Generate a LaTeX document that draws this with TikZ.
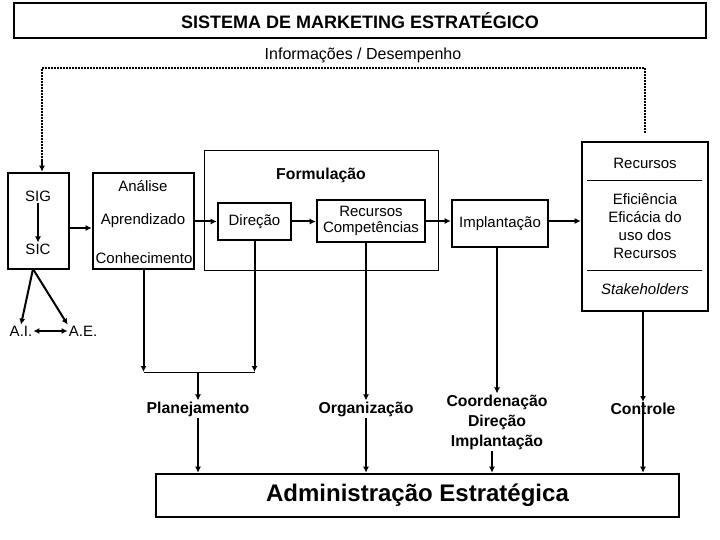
\documentclass[tikz,border=0pt]{standalone}
\usepackage{fontspec}
\setmainfont{Liberation Sans}
\usetikzlibrary{arrows.meta,positioning}

\tikzset{
  thickbox/.style={draw,line width=2.6pt,inner sep=0pt},
  thinbox/.style={draw,line width=0.9pt,inner sep=0pt},
  txt/.style={inner sep=1pt,font=\fontsize{15}{18}\selectfont,align=center},
  btxt/.style={inner sep=1pt,font=\fontsize{15.8}{20}\selectfont\bfseries,align=center},
  conn/.style={line width=2pt,-{Latex[length=6pt,width=6pt]}},
  feedback/.style={line width=2.6pt,dash pattern=on 1.6pt off 1.4pt}
}

\begin{document}
\begin{tikzpicture}[x=1pt,y=-1pt]
  \useasboundingbox (0,0) rectangle (720,540);

  % title
  \node[thickbox,minimum width=692pt,minimum height=35pt,
        font=\fontsize{18}{20}\selectfont\bfseries] (title) at (360,20.5) {SISTEMA DE MARKETING ESTRATÉGICO};
  \node[txt,font=\fontsize{16}{18}\selectfont] (info) at (363,55) {Informações / Desempenho};

  % information systems
  \node[thickbox,minimum width=61pt,minimum height=96pt] (sis) at (38.5,221) {};
  \node[txt] (sig) at (38,196) {SIG};
  \node[txt] (sic) at (38,249) {SIC};
  \node[txt] (ai) at (21,331) {A.I.};
  \node[txt] (ae) at (83,331) {A.E.};

  % analysis
  \node[thickbox,minimum width=101pt,minimum height=96pt] (ana) at (143.5,221) {};
  \node[txt] at (143,186) {Análise};
  \node[txt] at (143,221) {Aprendizado};
  \node[txt] at (144,258) {Conhecimento};

  % formulation
  \node[thinbox,minimum width=234pt,minimum height=120pt] (form) at (321,210) {};
  \node[btxt] at (321,175) {Formulação};
  \node[thickbox,minimum width=73pt,minimum height=37pt,txt] (dir) at (254.5,221.5) {Direção};
  \node[thickbox,minimum width=108pt,minimum height=42pt,txt,font=\fontsize{15}{16.5}\selectfont] (rc) at (371,221) {Recursos\\Competências};

  \node[thickbox,minimum width=96pt,minimum height=47pt,txt] (impl) at (500,223.5) {Implantação};

  % resources
  \node[thickbox,minimum width=126pt,minimum height=169pt] (rec) at (645,226.5) {};
  \node[txt] at (645,163) {Recursos};
  \node[txt] at (645,226) {Eficiência\\Eficácia do\\uso dos\\Recursos};
  \node[txt,font=\fontsize{15}{18}\selectfont\itshape] at (645,289) {Stakeholders};
  \draw[line width=0.9pt] (587,180) -- (702,180);
  \draw[line width=0.9pt] (587,270) -- (702,270);

  % functions
  \node[btxt] (plan) at (198,409) {Planejamento};
  \node[btxt] (org) at (366,409) {Organização};
  \node[btxt] (coo) at (497,422) {Coordenação\\Direção\\Implantação};
  \node[btxt] (ctl) at (643,409) {Controle};

  \node[thickbox,minimum width=523pt,minimum height=43pt,
        font=\fontsize{24}{26}\selectfont\bfseries] (adm) at (417.5,495.5) {Administração Estratégica};

  % feedback loop
  \coordinate (fbR) at (645,133);
  \coordinate (fbTR) at (645,68);
  \coordinate (fbTL) at (42,68);
  \coordinate (fbB) at (42,160);
  \draw[feedback] (fbR) -- (fbTR) -- (fbTL) -- (fbB);
  \draw[conn] (fbB) -- (fbB |- sis.north);

  % main flow
  \coordinate (sisr) at (69,228);
  \draw[conn] (sig) -- (sic);
  \draw[conn] (sisr) -- (sisr -| ana.west);
  \draw[conn] (ana.east |- dir) -- (dir.west);
  \draw[conn] (dir.east) -- (rc.west |- dir);
  \draw[conn] (rc.east) -- (impl.west |- rc);
  \draw[conn] (impl.east |- rc) -- (rec.west |- rc);

  \coordinate (sisb) at (33,269);
  \draw[conn] (sisb) -- (ai.north);
  \draw[conn] (sisb) -- (ae.north west);
  \draw[line width=2pt,{Latex[length=6pt,width=6pt]}-{Latex[length=6pt,width=6pt]}] (ai.east) -- (ae.west);

  % to planning
  \coordinate (mrg) at (198,372);
  \draw[conn] (ana.south) -- (ana.south |- mrg);
  \draw[conn] (dir.south) -- (dir.south |- mrg);
  \draw[line width=0.9pt] (ana.south |- mrg) -- (dir.south |- mrg);
  \draw[conn] (mrg) -- (plan.north);
  \draw[conn] (plan.south) -- (plan.south |- adm.north);

  \draw[conn] (rc.south -| org) -- (org.north);
  \draw[conn] (org.south) -- (org.south |- adm.north);

  \draw[conn] (impl.south -| coo) -- (coo.north);
  \draw[conn] ([xshift=-5pt]coo.south) -- ([xshift=-5pt]coo.south |- adm.north);

  \draw[conn] (rec.south -| ctl) -- (ctl.north);
  \draw[conn] (ctl.north) -- (ctl.north |- adm.north);
\end{tikzpicture}
\end{document}
